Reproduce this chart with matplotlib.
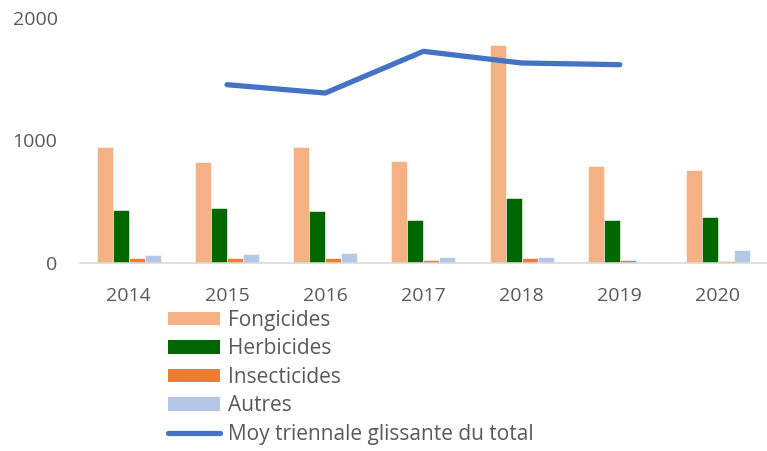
import numpy as np
import matplotlib.pyplot as plt
from matplotlib.patches import Patch
from matplotlib.lines import Line2D

plt.rcParams['font.family'] = ['Open Sans', 'DejaVu Sans']

annees = ['2014', '2015', '2016', '2017', '2018', '2019', '2020']
fongicides = [941, 822, 941, 835, 1780, 794, 757]
herbicides = [433, 451, 422, 351, 528, 351, 376]
insecticides = [38, 43, 38, 27, 38, 27, 16]
autres = [65, 73, 79, 52, 49, 8, 106]
moy_triennale = [np.nan, 1453, 1385, 1725, 1630, 1616, np.nan]

series = [
    ('Fongicides', fongicides, '#F4B183'),
    ('Herbicides', herbicides, '#006600'),
    ('Insecticides', insecticides, '#ED7D31'),
    ('Autres', autres, '#B4C7E7'),
]

fig = plt.figure(figsize=(7.67, 4.51), dpi=100)
ax = fig.add_axes([0.104, 0.417, 0.896, 0.544])

x = np.arange(len(annees))
largeur = 0.163
handles = []
for i, (nom, vals, couleur) in enumerate(series):
    ax.bar(x + (i - 1.5) * largeur, vals, largeur, color=couleur,
           edgecolor='white', linewidth=0.4)
    handles.append(Patch(facecolor=couleur, label=nom))

ax.plot(x, moy_triennale, color='#4472C4', lw=3.8,
        solid_capstyle='round', solid_joinstyle='round')
handles.append(Line2D([], [], color='#4472C4', lw=3.8, solid_capstyle='round',
                      label='Moy triennale glissante du total'))

ax.set_xlim(-0.5, len(annees) - 0.5)
ax.set_ylim(0, 2000)
ax.set_yticks([0, 1000, 2000])
ax.set_xticks(x)
ax.set_xticklabels(annees)
for s in ['top', 'right', 'left']:
    ax.spines[s].set_visible(False)
ax.spines['bottom'].set_color('#D9D9D9')
ax.spines['bottom'].set_linewidth(1.2)
ax.tick_params(axis='both', length=0, labelsize=14, colors='#595959')
ax.tick_params(axis='y', pad=16)
ax.tick_params(axis='x', pad=17.5)

# légende sous le graphique, sans cadre
leg = fig.legend(handles=handles, loc='upper left',
                 bbox_to_anchor=(0.219, 0.313), frameon=False,
                 fontsize=15, handlelength=2.5, handleheight=0.65,
                 labelspacing=0.36, borderpad=0, borderaxespad=0,
                 handletextpad=0.38)
for t in leg.get_texts():
    t.set_color('#595959')

fig.savefig('out.png', dpi=100)
